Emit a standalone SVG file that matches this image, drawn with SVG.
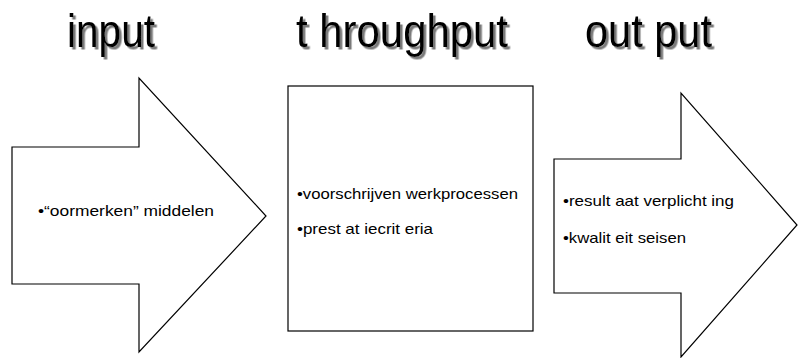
<svg xmlns="http://www.w3.org/2000/svg" width="798" height="358" viewBox="0 0 798 358">
<defs>
<filter id="tshadow" x="-10%" y="-20%" width="130%" height="150%">
<feDropShadow dx="2.5" dy="2.5" stdDeviation="0.6" flood-color="#7a7a7a" flood-opacity="1"/>
</filter>
</defs>
<style>
.shape{fill:#fff;stroke:#000;stroke-width:1.2}
.title{font-family:"Liberation Sans",Arial,sans-serif;font-size:47px;fill:#000;filter:url(#tshadow)}
.item{font-family:"Liberation Sans",Arial,sans-serif;font-size:15px;fill:#000}
</style>
<rect width="798" height="358" fill="#fff"/>
<g id="titles">
<text class="title" x="67" y="47" textLength="88" lengthAdjust="spacingAndGlyphs">input</text>
<text class="title" x="296" y="47" textLength="212" lengthAdjust="spacingAndGlyphs">t hroughput</text>
<text class="title" x="585" y="47" textLength="127" lengthAdjust="spacingAndGlyphs">out put</text>
</g>
<g id="input">
<polygon class="shape" points="12,147 139,147 139,78 266,216 139,352 139,284 12,284"/>
<text class="item" x="38" y="216" textLength="176" lengthAdjust="spacingAndGlyphs">•“oormerken” middelen</text>
</g>
<g id="throughput">
<rect class="shape" x="288" y="86" width="245" height="245"/>
<text class="item" x="297" y="199" textLength="221" lengthAdjust="spacingAndGlyphs">•voorschrijven werkprocessen</text>
<text class="item" x="297" y="234" textLength="136" lengthAdjust="spacingAndGlyphs">•prest at iecrit eria</text>
</g>
<g id="output">
<polygon class="shape" points="554,159 681,159 681,93 797,225 681,357 681,293 554,293"/>
<text class="item" x="563" y="206" textLength="171" lengthAdjust="spacingAndGlyphs">•result aat verplicht ing</text>
<text class="item" x="563" y="243" textLength="123" lengthAdjust="spacingAndGlyphs">•kwalit eit seisen</text>
</g>
<g id="connectors"></g>
</svg>
